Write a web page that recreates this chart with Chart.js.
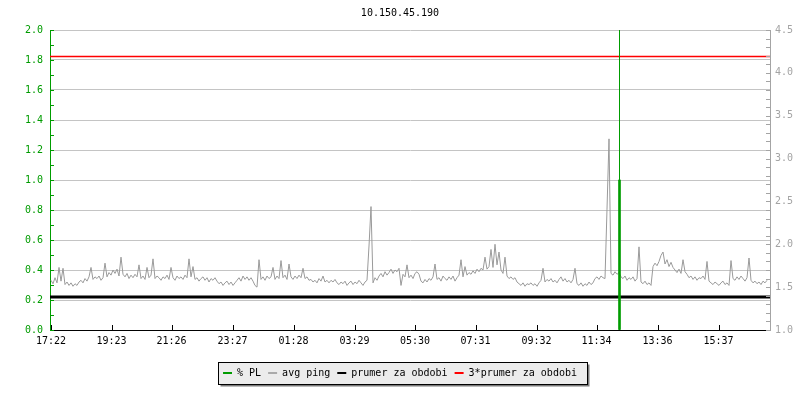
<!DOCTYPE html>
<html>
<head>
<meta charset="utf-8">
<script src="https://cdn.jsdelivr.net/npm/chart.js@4"></script>
<style>
  html, body { margin: 0; background: #fff; }
  #wrap { width: 800px; height: 400px; }
</style>
</head>
<body>
<div id="wrap"><canvas id="chart"></canvas></div>
<script>
// Chart data

const chartTitle = '10.150.45.190';

// avg ping (ms, right axis), one sample every 4 min starting 17:22
const sampleStart = 2;
const sampleStep = 4;
const avgPing = [
  1.58, 1.54, 1.61, 1.55, 1.73, 1.57, 1.72, 1.53, 1.56, 1.52,
  1.55, 1.51, 1.54, 1.52, 1.56, 1.58, 1.55, 1.60, 1.57, 1.62,
  1.73, 1.59, 1.62, 1.60, 1.63, 1.58, 1.61, 1.78, 1.62, 1.67,
  1.64, 1.70, 1.66, 1.71, 1.63, 1.85, 1.65, 1.62, 1.66, 1.60,
  1.64, 1.61, 1.65, 1.62, 1.76, 1.60, 1.63, 1.59, 1.73, 1.61,
  1.64, 1.83, 1.60, 1.63, 1.61, 1.58, 1.62, 1.60, 1.64, 1.59,
  1.73, 1.61, 1.58, 1.63, 1.60, 1.62, 1.59, 1.64, 1.61, 1.83,
  1.62, 1.74, 1.59, 1.61, 1.57, 1.60, 1.62, 1.58, 1.61, 1.56,
  1.60, 1.58, 1.61, 1.57, 1.54, 1.56, 1.52, 1.55, 1.57, 1.53,
  1.56, 1.52, 1.55, 1.58, 1.61, 1.57, 1.63, 1.59, 1.62, 1.58,
  1.61, 1.57, 1.52, 1.50, 1.82, 1.59, 1.62, 1.58, 1.63, 1.60,
  1.62, 1.73, 1.59, 1.63, 1.60, 1.81, 1.61, 1.64, 1.59, 1.77,
  1.62, 1.59, 1.63, 1.60, 1.64, 1.61, 1.72, 1.60, 1.62, 1.58,
  1.59, 1.56, 1.58, 1.55, 1.60, 1.57, 1.63, 1.56, 1.58, 1.55,
  1.58, 1.56, 1.59, 1.55, 1.53, 1.56, 1.54, 1.57, 1.52, 1.55,
  1.57, 1.53, 1.56, 1.54, 1.58, 1.55, 1.52, 1.56, 1.58, 1.98,
  2.44, 1.55, 1.61, 1.58, 1.63, 1.66, 1.62, 1.68, 1.64, 1.67,
  1.71, 1.66, 1.70, 1.68, 1.72, 1.52, 1.65, 1.62, 1.76, 1.61,
  1.64, 1.60, 1.66, 1.68, 1.65, 1.57, 1.55, 1.59, 1.56, 1.60,
  1.58, 1.62, 1.77, 1.59, 1.61, 1.57, 1.63, 1.60, 1.58, 1.62,
  1.59, 1.63, 1.57, 1.61, 1.64, 1.82, 1.62, 1.74, 1.64, 1.67,
  1.65, 1.69, 1.66, 1.71, 1.68, 1.72, 1.70, 1.85, 1.71, 1.74,
  1.94, 1.73, 2.00, 1.76, 1.91, 1.70, 1.66, 1.85, 1.63, 1.60,
  1.62, 1.59, 1.61, 1.56, 1.54, 1.52, 1.55, 1.51, 1.54, 1.53,
  1.55, 1.52, 1.54, 1.51, 1.55, 1.58, 1.72, 1.56, 1.59, 1.57,
  1.60, 1.56, 1.58, 1.55, 1.59, 1.62, 1.57, 1.60, 1.56, 1.58,
  1.55, 1.59, 1.72, 1.54, 1.52, 1.55, 1.51, 1.54, 1.52, 1.56,
  1.53, 1.55, 1.60, 1.62, 1.59, 1.63, 1.61, 1.60, 2.41, 3.23,
  1.66, 1.64, 1.68, 1.65, 1.67, 1.62, 1.60, 1.63, 1.58, 1.61,
  1.59, 1.62, 1.57, 1.60, 1.97, 1.56, 1.54, 1.57, 1.53, 1.55,
  1.52, 1.74, 1.78, 1.75, 1.80, 1.87, 1.91, 1.77, 1.82, 1.74,
  1.79, 1.73, 1.70, 1.67, 1.71, 1.66, 1.82, 1.68, 1.65, 1.61,
  1.63, 1.59, 1.62, 1.58, 1.61, 1.60, 1.63, 1.59, 1.80, 1.57,
  1.55, 1.53, 1.56, 1.54, 1.52, 1.55, 1.57, 1.53, 1.55, 1.52,
  1.81, 1.60, 1.58, 1.62, 1.59, 1.63, 1.60, 1.57, 1.61, 1.84,
  1.58, 1.55, 1.57, 1.54, 1.56, 1.53, 1.57, 1.55, 1.58
];

// packet loss (%, left axis)
const plTimes = [1139];
const plValues = [1.0];
const plMarkTop = 2.0;

// period averages (right axis)
const meanPing = 1.385;
const meanPing3 = 4.19;

const xMax = 1440;
const xTickPos = [2, 123, 243, 365, 487, 609, 730, 851, 973, 1093, 1215, 1337];
const xTickLabels = ['17:22', '19:23', '21:26', '23:27', '01:28', '03:29',
                     '05:30', '07:31', '09:32', '11:34', '13:36', '15:37'];

const GREEN = '#009c00';
const GREY = '#9a9a9a';
const AXIS_GREY = '#a4a4a4';
const MONO = 'DejaVu Sans Mono';

// draws the framed legend background
const legendFrame = {
  id: 'legendFrame',
  beforeDraw(chart) {
    const boxes = chart.legend && chart.legend.legendHitBoxes;
    if (!boxes || !boxes.length) return;
    const ctx = chart.ctx;
    const x0 = Math.round(Math.min(...boxes.map(b => b.left)) - 5) + 0.5;
    const x1 = Math.round(Math.max(...boxes.map(b => b.left + b.width)) + 10) + 0.5;
    const cy = boxes[0].top + boxes[0].height / 2;
    const y0 = Math.round(cy - 11) + 0.5;
    const y1 = Math.round(cy + 11) + 0.5;
    ctx.save();
    ctx.fillStyle = '#7a7a7a';
    ctx.fillRect(x0 + 2, y0 + 2, x1 - x0, y1 - y0);
    ctx.fillStyle = '#ececec';
    ctx.fillRect(x0, y0, x1 - x0, y1 - y0);
    ctx.strokeStyle = '#000';
    ctx.lineWidth = 1;
    ctx.strokeRect(x0, y0, x1 - x0, y1 - y0);
    ctx.restore();
  }
};

// small tick marks drawn inside the plot area
const innerTicks = {
  id: 'innerTicks',
  afterDraw(chart) {
    const {ctx, chartArea: a, scales} = chart;
    ctx.save();
    ctx.lineWidth = 1;
    ctx.strokeStyle = GREEN;
    ctx.beginPath();
    for (let k = 0; k <= 20; k++) {
      const y = Math.round(scales.y.getPixelForValue(k / 10)) + 0.5;
      ctx.moveTo(a.left, y);
      ctx.lineTo(a.left + 4, y);
    }
    ctx.stroke();
    ctx.strokeStyle = AXIS_GREY;
    ctx.beginPath();
    for (let k = 10; k <= 45; k++) {
      const y = Math.round(scales.y1.getPixelForValue(k / 10)) + 0.5;
      ctx.moveTo(a.right - 4, y);
      ctx.lineTo(a.right, y);
    }
    ctx.stroke();
    ctx.strokeStyle = '#000';
    ctx.beginPath();
    xTickPos.forEach(v => {
      const x = Math.round(scales.x.getPixelForValue(v)) + 0.5;
      ctx.moveTo(x, a.bottom);
      ctx.lineTo(x, a.bottom - 5);
    });
    ctx.stroke();
    ctx.restore();
  }
};

const data = {
  datasets: [{
    type: 'bar',
    label: '% PL',
    legendColor: GREEN,
    data: plTimes.map((t, i) => ({x: t, y: plValues[i]})),
    backgroundColor: GREEN,
    barThickness: 2,
    yAxisID: 'y'
  }, {
    type: 'line',
    data: plTimes.map(t => [{x: t, y: 0}, {x: t, y: plMarkTop}]).flat(),
    borderColor: GREEN,
    borderWidth: 1,
    pointRadius: 0,
    yAxisID: 'y'
  }, {
    type: 'line',
    label: 'avg ping',
    legendColor: '#aaaaaa',
    data: avgPing.map((v, i) => ({x: sampleStart + i * sampleStep, y: v})),
    borderColor: GREY,
    borderWidth: 1,
    pointRadius: 0,
    tension: 0,
    yAxisID: 'y1'
  }, {
    type: 'line',
    label: 'prumer za obdobi',
    legendColor: '#000',
    data: [{x: 0, y: meanPing}, {x: xMax, y: meanPing}],
    borderColor: '#000',
    borderWidth: 3,
    pointRadius: 0,
    yAxisID: 'y1'
  }, {
    type: 'line',
    label: '3*prumer za obdobi',
    legendColor: '#ff0000',
    data: [{x: 0, y: meanPing3}, {x: xMax, y: meanPing3}],
    borderColor: '#ff0000',
    borderWidth: 1.5,
    pointRadius: 0,
    yAxisID: 'y1'
  }]
};

const options = {
  responsive: true,
  maintainAspectRatio: false,
  animation: false,
  devicePixelRatio: 1,
  layout: { padding: { left: 0, right: 0, top: 0, bottom: 12 } },
  plugins: {
    title: {
      display: true,
      text: chartTitle,
      color: '#000',
      font: { family: MONO, size: 10, weight: 'normal' },
      padding: { top: 7, bottom: 11 }
    },
    legend: {
      position: 'bottom',
      labels: {
        boxWidth: 9,
        boxHeight: 2,
        padding: 7,
        color: '#000',
        font: { family: MONO, size: 10 },
        generateLabels: chart => chart.data.datasets
          .map((ds, i) => ({
            text: ds.label,
            fillStyle: ds.legendColor,
            strokeStyle: ds.legendColor,
            lineWidth: 0,
            hidden: false,
            datasetIndex: i
          }))
          .filter(l => l.text)
      }
    },
    tooltip: { enabled: false }
  },
  scales: {
    x: {
      type: 'linear',
      min: 0,
      max: xMax,
      offset: false,
      afterBuildTicks: s => { s.ticks = xTickPos.map(v => ({value: v})); },
      afterFit: s => { s.height = 31; },
      ticks: {
        autoSkip: false,
        maxRotation: 0,
        padding: 5,
        color: '#000',
        font: { family: MONO, size: 10 },
        callback: (v, i) => xTickLabels[i]
      },
      grid: { drawOnChartArea: false, drawTicks: false },
      border: { color: '#000' }
    },
    y: {
      position: 'left',
      min: 0,
      max: 2,
      afterFit: s => { s.width = 50; },
      ticks: {
        stepSize: 0.2,
        padding: 7,
        color: GREEN,
        font: { family: MONO, size: 10 },
        callback: v => v.toFixed(1)
      },
      grid: { color: '#c4c4c4', drawTicks: false },
      border: { color: GREEN }
    },
    y1: {
      position: 'right',
      min: 1,
      max: 4.5,
      afterFit: s => { s.width = 30; },
      ticks: {
        stepSize: 0.5,
        padding: 5,
        color: AXIS_GREY,
        font: { family: MONO, size: 10 },
        callback: v => v.toFixed(1)
      },
      grid: { drawOnChartArea: false, drawTicks: false },
      border: { color: AXIS_GREY }
    }
  }
};

const chart = new Chart(document.getElementById('chart'), {
  type: 'line',
  data: data,
  options: options,
  plugins: [legendFrame, innerTicks]
});
</script>
</body>
</html>
